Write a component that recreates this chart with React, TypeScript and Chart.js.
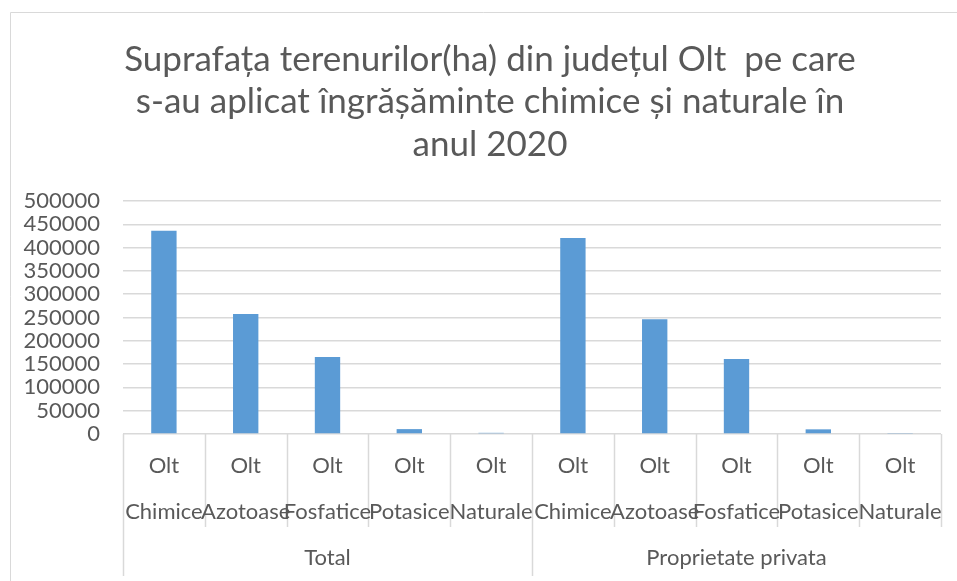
import React, { useEffect, useRef } from "react";
import { Chart, registerables } from "chart.js";

Chart.register(...registerables);

// ---- data ----
const titleLines = [
  "Suprafața terenurilor(ha) din județul Olt  pe care",
  "s-au aplicat îngrășăminte chimice și naturale în",
  "anul 2020",
];
const region = "Olt";
const fertilizerTypes = ["Chimice", "Azotoase", "Fosfatice", "Potasice", "Naturale"];
const ownershipGroups = ["Total", "Proprietate privata"];
const totalValues = [436000, 257500, 165500, 10500, 2500];
const privateValues = [420500, 246000, 161000, 10000, 2200];
const yMax = 500000;
const yStep = 50000;

const FONT = "Lato, 'Noto Sans', sans-serif";
const TEXT = "#595959";
const GRID = "#d9d9d9";
const BAR = "#5b9bd5";

const labels: string[] = [];
const values: number[] = [];
const groupOf: number[] = [];
ownershipGroups.forEach((g, gi) => {
  const src = gi === 0 ? totalValues : privateValues;
  fertilizerTypes.forEach((t, ti) => {
    labels.push(`${region} ${t} ${g}`);
    values.push(src[ti]);
    groupOf.push(gi);
  });
});

const decorPlugin = {
  id: "decor",
  beforeDraw(chart: any) {
    const ctx = chart.ctx;
    ctx.save();
    ctx.strokeStyle = GRID;
    ctx.lineWidth = 1;
    ctx.beginPath();
    ctx.moveTo(10.5, chart.height);
    ctx.lineTo(10.5, 12.5);
    ctx.lineTo(chart.width, 12.5);
    ctx.stroke();
    // title
    ctx.fillStyle = TEXT;
    ctx.font = `35px ${FONT}`;
    ctx.textAlign = "center";
    ctx.textBaseline = "middle";
    const ty = [60, 102, 145];
    titleLines.forEach((l, i) => ctx.fillText(l, 490, ty[i]));
    ctx.restore();
  },
  afterDraw(chart: any) {
    const ctx = chart.ctx;
    const xs = chart.scales.x;
    const area = chart.chartArea;
    const n = labels.length;
    const w = (area.right - area.left) / n;
    ctx.save();
    ctx.strokeStyle = GRID;
    ctx.lineWidth = 1.5;
    ctx.beginPath();
    for (let i = 0; i <= n; i++) {
      const bx = Math.round(area.left + i * w) + 0.5;
      const isGroup = i === 0 || (i < n && groupOf[i] !== groupOf[i - 1]);
      ctx.moveTo(bx, area.bottom);
      ctx.lineTo(bx, isGroup ? 576 : 527);
    }
    ctx.stroke();
    ctx.fillStyle = TEXT;
    ctx.font = `22px ${FONT}`;
    ctx.textAlign = "center";
    ctx.textBaseline = "middle";
    for (let i = 0; i < n; i++) {
      const cx = xs.getPixelForValue(i);
      ctx.fillText(region, cx, 466);
      ctx.fillText(fertilizerTypes[i % fertilizerTypes.length], cx, 512);
    }
    ownershipGroups.forEach((g, gi) => {
      const idx = groupOf.map((v, i) => (v === gi ? i : -1)).filter((i) => i >= 0);
      const l = area.left + idx[0] * w;
      const r = area.left + (idx[idx.length - 1] + 1) * w;
      ctx.fillText(g, (l + r) / 2, 558);
    });
    ctx.restore();
  },
};

export default function App() {
  const ref = useRef<HTMLCanvasElement | null>(null);
  useEffect(() => {
    document.body.style.margin = "0";
    const chart = new Chart(ref.current!, {
      type: "bar",
      data: {
        labels,
        datasets: [
          {
            data: values,
            backgroundColor: BAR,
            borderWidth: 0,
            categoryPercentage: 1,
            barPercentage: 0.31,
          },
        ],
      },
      options: {
        animation: false,
        responsive: false,
        maintainAspectRatio: false,
        layout: { padding: { top: 201, right: 16, bottom: 147, left: 0 } },
        plugins: { legend: { display: false }, tooltip: { enabled: false }, title: { display: false } },
        scales: {
          x: {
            display: false,
          },
          y: {
            min: 0,
            max: yMax,
            ticks: {
              stepSize: yStep,
              autoSkip: false,
              padding: 23,
              color: TEXT,
              font: { family: FONT, size: 22, lineHeight: 1 },
              callback: (v: any) => String(v),
            },
            grid: { color: GRID, lineWidth: 1.5, drawTicks: false },
            border: { display: false },
            afterFit: (s: any) => {
              s.width = 123;
            },
          },
        },
      },
      plugins: [decorPlugin],
    });
    return () => chart.destroy();
  }, []);
  return (
    <div style={{ width: 957, height: 581, position: "relative" }}>
      <canvas ref={ref} width={957} height={581} style={{ display: "block" }} />
    </div>
  );
}
